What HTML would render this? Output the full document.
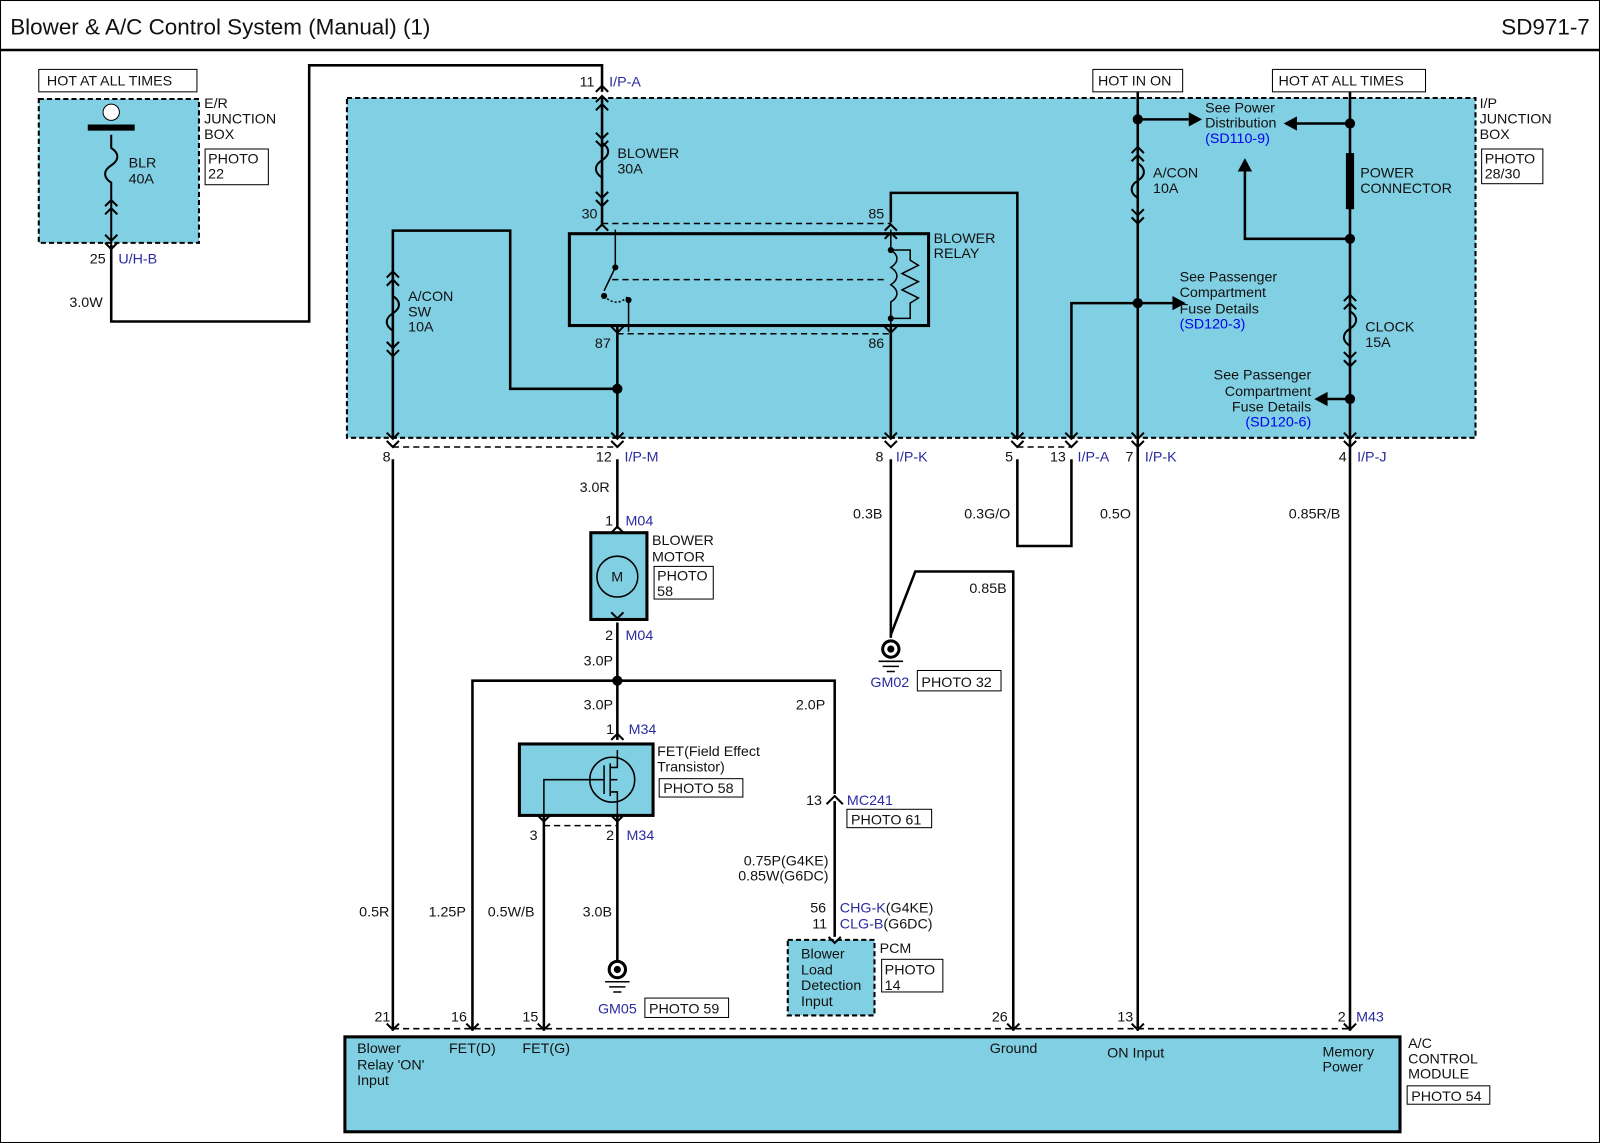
<!DOCTYPE html>
<html><head><meta charset="utf-8"><style>
html,body{margin:0;padding:0;background:#fff}
svg{display:block}
text{font-family:"Liberation Sans",sans-serif;font-size:14px;fill:#111}
.b{fill:#2a2aa0}
.l{fill:#0000ee}
</style></head><body>
<svg width="1600" height="1143" viewBox="0 0 1568 1120" preserveAspectRatio="none" xmlns="http://www.w3.org/2000/svg">
<rect x="0" y="0" width="1568" height="1120" fill="#fff"/>
<rect x="0.5" y="0.5" width="1567" height="1119" fill="none" stroke="#000"/>
<text x="10" y="34" style="font-size:22px">Blower &amp; A/C Control System (Manual) (1)</text>
<text x="1558" y="34" text-anchor="end" style="font-size:22px">SD971-7</text>
<line x1="0" y1="49" x2="1568" y2="49" stroke="#000" stroke-width="2.5"/>

<g fill="#80cfe2" stroke="#000" stroke-width="2" stroke-dasharray="5,3">
<rect x="38" y="97" width="157" height="141"/>
<rect x="340" y="96" width="1106" height="333"/>
<rect x="772" y="921" width="85" height="74"/>
</g>
<g fill="#80cfe2" stroke="#000" stroke-width="3">
<rect x="579" y="522" width="55" height="85"/>
<rect x="509" y="729" width="131" height="70"/>
<rect x="338" y="1016" width="1034" height="93"/>
</g>
<rect x="558" y="229" width="352" height="90" fill="none" stroke="#000" stroke-width="3"/>

<!-- labeled boxes -->
<g fill="#fff" stroke="#000" stroke-width="1">
<rect x="38" y="68" width="155" height="22"/>
<rect x="1071" y="68" width="88" height="22"/>
<rect x="1247" y="68" width="150" height="22"/>
<rect x="201" y="146" width="62" height="35" fill="none"/>
<rect x="1452" y="146" width="60" height="34" fill="none"/>
<rect x="641" y="555" width="58" height="32" fill="none"/>
<rect x="646" y="763" width="82" height="18" fill="none"/>
<rect x="899" y="657" width="82" height="20"/>
<rect x="830" y="793" width="83" height="18"/>
<rect x="864" y="940" width="60" height="32" fill="none"/>
<rect x="632" y="978" width="82" height="19"/>
<rect x="1379" y="1064" width="81" height="18"/>
</g>
<text x="46" y="84">HOT AT ALL TIMES</text>
<text x="1076" y="84">HOT IN ON</text>
<text x="1253" y="84">HOT AT ALL TIMES</text>

<!-- wires -->
<g fill="none" stroke="#000" stroke-width="2.5">
<polyline points="109,240 109,315 303,315 303,64 590,64 590,90"/>
<line x1="590" y1="95" x2="590" y2="222"/>
<polyline points="873,218 873,189 997,189 997,430"/>
<line x1="605" y1="320" x2="605" y2="430"/>
<line x1="873" y1="320" x2="873" y2="430"/>
<polyline points="385,430 385,226 500,226 500,381 605,381"/>
<line x1="1115" y1="90" x2="1115" y2="1010"/>
<line x1="1323" y1="90" x2="1323" y2="1010"/>
<line x1="1115" y1="117" x2="1165" y2="117"/>
<line x1="1323" y1="121" x2="1270" y2="121"/>
<polyline points="1323,234 1220,234 1220,168"/>
<line x1="1323" y1="391" x2="1300" y2="391"/>
<polyline points="1150,297 1050,297 1050,430"/>
<polyline points="997,450 997,535 1050,535 1050,450"/>
<line x1="385" y1="450" x2="385" y2="1010"/>
<line x1="605" y1="450" x2="605" y2="518"/>
<line x1="873" y1="450" x2="873" y2="625"/>
<polyline points="873,622 897,560 993,560 993,1010"/>
<line x1="605" y1="610" x2="605" y2="725"/>
<polyline points="463,1010 463,667 818,667 818,778"/>
<line x1="818" y1="785" x2="818" y2="918"/>
<line x1="533" y1="800" x2="533" y2="1010"/>
<line x1="605" y1="800" x2="605" y2="942"/>
</g>
<g stroke="#000" stroke-width="1.5" stroke-dasharray="6,4" fill="none">
<line x1="590" y1="219" x2="873" y2="219"/>
<line x1="605" y1="327" x2="873" y2="327"/>
<line x1="600" y1="274" x2="870" y2="274"/>
<line x1="385" y1="438" x2="605" y2="438"/>
<line x1="997" y1="438" x2="1050" y2="438"/>
<line x1="533" y1="809" x2="605" y2="809"/>
<line x1="385" y1="1008" x2="1323" y2="1008"/>
</g>

<!-- fuses -->
<g fill="none" stroke="#000" stroke-width="2">
<path d="M109,132 V145 c8,5 8,12 0,17 c-8,5 -8,12 0,17 V240"/>
<path d="M590,95 V140 c8,5 8,12 0,17 c-8,5 -8,12 0,17 V215"/>
<path d="M385,260 V290 c8,5 8,12 0,17 c-8,5 -8,12 0,17 V360"/>
<path d="M1115,130 V160 c8,5 8,12 0,17 c-8,5 -8,12 0,17 V230"/>
<path d="M1323,280 V305 c8,5 8,12 0,17 c-8,5 -8,12 0,17 V370"/>
<!-- chevrons -->
<path d="M103,202 l6,-6 l6,6 M103,210 l6,-6 l6,6 M103,230 l6,6 l6,-6 M103,238 l6,6 l6,-6"/>
<path d="M584,100 l6,-6 l6,6 M584,108 l6,-6 l6,6 M584,90 l6,-6 l6,6 M584,130 l6,6 l6,-6 M584,138 l6,6 l6,-6 M584,188 l6,6 l6,-6 M584,196 l6,6 l6,-6 M584,226 l6,-6 l6,6"/>
<path d="M379,272 l6,-6 l6,6 M379,280 l6,-6 l6,6 M379,335 l6,6 l6,-6 M379,343 l6,6 l6,-6 M379,424 l6,6 l6,-6 M379,432 l6,6 l6,-6"/>
<path d="M1109,150 l6,-6 l6,6 M1109,158 l6,-6 l6,6 M1109,205 l6,6 l6,-6 M1109,213 l6,6 l6,-6 M1109,424 l6,6 l6,-6 M1109,432 l6,6 l6,-6"/>
<path d="M1317,295 l6,-6 l6,6 M1317,303 l6,-6 l6,6 M1317,345 l6,6 l6,-6 M1317,353 l6,6 l6,-6 M1317,424 l6,6 l6,-6 M1317,432 l6,6 l6,-6"/>
<path d="M599,424 l6,6 l6,-6 M599,432 l6,6 l6,-6 M867,424 l6,6 l6,-6 M867,432 l6,6 l6,-6 M991,424 l6,6 l6,-6 M991,432 l6,6 l6,-6 M1044,424 l6,6 l6,-6 M1044,432 l6,6 l6,-6"/>
<path d="M867,226 l6,-6 l6,6 M867,234 l6,-6 l6,6 M599,320 l6,6 l6,-6 M867,320 l6,6 l6,-6"/>
<path d="M599,522 l6,-6 l6,6 M599,600 l6,6 l6,-6 M599,725 l6,-6 l6,6 M527,799 l6,6 l6,-6 M599,799 l6,6 l6,-6"/>
<path d="M810,788 l8,-8 l8,8"/>
<path d="M379,1003 l6,6 l6,-6 M457,1003 l6,6 l6,-6 M527,1003 l6,6 l6,-6 M987,1003 l6,6 l6,-6 M1109,1003 l6,6 l6,-6 M1317,1003 l6,6 l6,-6 M812,918 l6,6 l6,-6"/>
</g>
<!-- E/R top -->
<circle cx="109" cy="110" r="8" fill="#fff" stroke="#000"/>
<rect x="86" y="122" width="46" height="6" fill="#000"/>
<!-- power connector -->
<rect x="1319" y="150" width="8" height="55" fill="#000"/>
<!-- dots -->
<g fill="#000">
<circle cx="605" cy="381" r="5"/><circle cx="1115" cy="117" r="5"/><circle cx="1323" cy="121" r="5"/>
<circle cx="1323" cy="234" r="5"/><circle cx="1323" cy="391" r="5"/><circle cx="1115" cy="297" r="5"/>
<circle cx="605" cy="667" r="5"/>
<polygon points="1178,117 1165,110 1165,124"/>
<polygon points="1258,121 1271,114 1271,128"/>
<polygon points="1220,155 1213,168 1227,168"/>
<polygon points="1162,297 1149,290 1149,304"/>
<polygon points="1288,391 1301,384 1301,398"/>
</g>
<!-- relay internals -->
<g fill="none" stroke="#000" stroke-width="1.5">
<line x1="603" y1="225" x2="603" y2="262"/>
<line x1="603" y1="262" x2="592" y2="285"/>
<path d="M592,290 q12,12 24,0" stroke-dasharray="2,2"/>
<line x1="616" y1="294" x2="616" y2="325"/>
<line x1="873" y1="225" x2="873" y2="245"/>
<path d="M873,245 c8,5 8,12 0,17 c8,5 8,12 0,17 c8,5 8,12 0,17 V320"/>
<polyline points="873,245 892,245 892,255 900,260 884,268 900,276 884,284 900,292 892,297 892,312 873,312"/>
</g>
<g fill="#000"><circle cx="603" cy="262" r="3"/><circle cx="592" cy="290" r="3"/><circle cx="616" cy="294" r="3"/><circle cx="873" cy="245" r="3"/><circle cx="873" cy="312" r="3"/></g>
<!-- motor -->
<circle cx="605" cy="565" r="20" fill="none" stroke="#000" stroke-width="1.5"/>
<text x="599" y="570">M</text>
<!-- FET -->
<g fill="none" stroke="#000" stroke-width="1.5">
<circle cx="600" cy="764" r="22"/>
<polyline points="605,735 605,752 598,752"/>
<polyline points="598,776 605,776 605,800"/>
<line x1="598" y1="748" x2="598" y2="780"/>
<line x1="592" y1="750" x2="592" y2="778"/>
<polyline points="592,764 533,764 533,800"/>
<line x1="598" y1="764" x2="605" y2="764"/>
</g>
<!-- grounds -->
<g stroke="#000" fill="none">
<circle cx="873" cy="636" r="8" stroke-width="3"/><circle cx="873" cy="636" r="3" fill="#000"/>
<path d="M861,648 h24 M865,653 h16 M869,658 h8" stroke-width="1.5"/>
<circle cx="605" cy="950" r="8" stroke-width="3"/><circle cx="605" cy="950" r="3" fill="#000"/>
<path d="M593,962 h24 M597,967 h16 M601,972 h8" stroke-width="1.5"/>
</g>

<!-- texts -->
<text x="200" y="106">E/R</text><text x="200" y="121">JUNCTION</text><text x="200" y="136">BOX</text>
<text x="204" y="160">PHOTO</text><text x="204" y="175">22</text>
<text x="126" y="164">BLR</text><text x="126" y="180">40A</text>
<text x="88" y="258">25</text><text x="116" y="258" class="b">U/H-B</text>
<text x="68" y="301">3.0W</text>
<text x="568" y="85">11</text><text x="597" y="85" class="b">I/P-A</text>
<text x="605" y="155">BLOWER</text><text x="605" y="170">30A</text>
<text x="570" y="214">30</text><text x="851" y="214">85</text>
<text x="915" y="238">BLOWER</text><text x="915" y="253">RELAY</text>
<text x="583" y="341">87</text><text x="851" y="341">86</text>
<text x="400" y="295">A/CON</text><text x="400" y="310">SW</text><text x="400" y="325">10A</text>
<text x="1181" y="110">See Power</text><text x="1181" y="125">Distribution</text><text x="1181" y="140" class="l">(SD110-9)</text>
<text x="1333" y="174">POWER</text><text x="1333" y="189">CONNECTOR</text>
<text x="1130" y="174">A/CON</text><text x="1130" y="189">10A</text>
<text x="1156" y="276">See Passenger</text><text x="1156" y="291">Compartment</text><text x="1156" y="307">Fuse Details</text><text x="1156" y="322" class="l">(SD120-3)</text>
<text x="1338" y="325">CLOCK</text><text x="1338" y="340">15A</text>
<text x="1285" y="372" text-anchor="end">See Passenger</text><text x="1285" y="388" text-anchor="end">Compartment</text><text x="1285" y="403" text-anchor="end">Fuse Details</text><text x="1285" y="418" text-anchor="end" class="l">(SD120-6)</text>
<text x="1450" y="106">I/P</text><text x="1450" y="121">JUNCTION</text><text x="1450" y="136">BOX</text>
<text x="1455" y="160">PHOTO</text><text x="1455" y="175">28/30</text>
<text x="375" y="452">8</text>
<text x="584" y="452">12</text><text x="612" y="452" class="b">I/P-M</text>
<text x="858" y="452">8</text><text x="878" y="452" class="b">I/P-K</text>
<text x="985" y="452">5</text>
<text x="1029" y="452">13</text><text x="1056" y="452" class="b">I/P-A</text>
<text x="1103" y="452">7</text><text x="1122" y="452" class="b">I/P-K</text>
<text x="1312" y="452">4</text><text x="1330" y="452" class="b">I/P-J</text>
<text x="568" y="482">3.0R</text>
<text x="836" y="508">0.3B</text><text x="945" y="508">0.3G/O</text><text x="1078" y="508">0.5O</text><text x="1263" y="508">0.85R/B</text>
<text x="593" y="515">1</text><text x="613" y="515" class="b">M04</text>
<text x="639" y="534">BLOWER</text><text x="639" y="550">MOTOR</text>
<text x="644" y="569">PHOTO</text><text x="644" y="584">58</text>
<text x="950" y="581">0.85B</text>
<text x="593" y="627">2</text><text x="613" y="627" class="b">M04</text>
<text x="572" y="652">3.0P</text>
<text x="853" y="673" class="b">GM02</text><text x="903" y="673">PHOTO 32</text>
<text x="572" y="695">3.0P</text><text x="780" y="695">2.0P</text>
<text x="594" y="719">1</text><text x="616" y="719" class="b">M34</text>
<text x="644" y="741">FET(Field Effect</text><text x="644" y="756">Transistor)</text>
<text x="650" y="777">PHOTO 58</text>
<text x="790" y="789">13</text><text x="830" y="789" class="b">MC241</text>
<text x="834" y="808">PHOTO 61</text>
<text x="519" y="823">3</text><text x="594" y="823">2</text><text x="614" y="823" class="b">M34</text>
<text x="812" y="848" text-anchor="end">0.75P(G4KE)</text><text x="812" y="863" text-anchor="end">0.85W(G6DC)</text>
<text x="794" y="894">56</text><text x="823" y="894"><tspan class="b">CHG-K</tspan>(G4KE)</text>
<text x="796" y="910">11</text><text x="823" y="910"><tspan class="b">CLG-B</tspan>(G6DC)</text>
<text x="352" y="898">0.5R</text><text x="420" y="898">1.25P</text><text x="478" y="898">0.5W/B</text><text x="571" y="898">3.0B</text>
<text x="785" y="939">Blower</text><text x="785" y="955">Load</text><text x="785" y="970">Detection</text><text x="785" y="986">Input</text>
<text x="862" y="934">PCM</text><text x="867" y="955">PHOTO</text><text x="867" y="970">14</text>
<text x="586" y="993" class="b">GM05</text><text x="636" y="993">PHOTO 59</text>
<text x="367" y="1001">21</text><text x="442" y="1001">16</text><text x="512" y="1001">15</text><text x="972" y="1001">26</text><text x="1095" y="1001">13</text>
<text x="1311" y="1001">2</text><text x="1329" y="1001" class="b">M43</text>
<text x="350" y="1032">Blower</text><text x="350" y="1048">Relay 'ON'</text><text x="350" y="1063">Input</text>
<text x="440" y="1032">FET(D)</text><text x="512" y="1032">FET(G)</text><text x="970" y="1032">Ground</text>
<text x="1085" y="1036">ON Input</text>
<text x="1296" y="1035">Memory</text><text x="1296" y="1050">Power</text>
<text x="1380" y="1027">A/C</text><text x="1380" y="1042">CONTROL</text><text x="1380" y="1057">MODULE</text>
<text x="1383" y="1079">PHOTO 54</text>
</svg>
</body></html>
